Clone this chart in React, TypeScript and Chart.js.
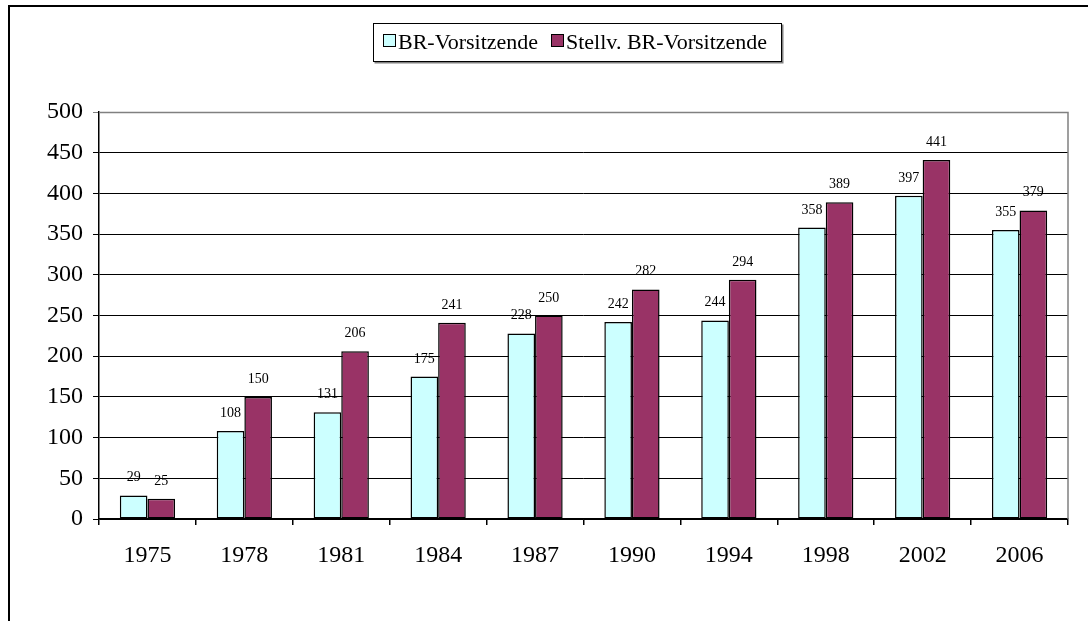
import React, { useEffect, useRef } from "react";
import { Chart, registerables } from "chart.js";

Chart.register(...registerables);

const categories = ["1975", "1978", "1981", "1984", "1987", "1990", "1994", "1998", "2002", "2006"];
const brVorsitzende = [29, 108, 131, 175, 228, 242, 244, 358, 397, 355];
const stellvVorsitzende = [25, 150, 206, 241, 250, 282, 294, 389, 441, 379];
const seriesNames = ["BR-Vorsitzende", "Stellv. BR-Vorsitzende"];
const seriesColors = ["#CCFFFF", "#993366"];

const FONT = "'Liberation Serif', 'Times New Roman', serif";

const labelPlugin = {
  id: "valueLabels",
  afterDatasetsDraw(chart: any) {
    const ctx = chart.ctx;
    ctx.save();
    ctx.font = `14px ${FONT}`;
    ctx.fillStyle = "#000";
    ctx.textAlign = "center";
    ctx.textBaseline = "alphabetic";
    chart.data.datasets.forEach((ds: any, di: number) => {
      const meta = chart.getDatasetMeta(di);
      meta.data.forEach((bar: any, i: number) => {
        ctx.fillText(String(ds.data[i]), bar.x, bar.y - 14);
      });
    });
    const a = chart.chartArea;
    ctx.strokeStyle = "#808080";
    ctx.lineWidth = 1.5;
    ctx.beginPath();
    ctx.moveTo(a.left, a.top + 0.5);
    ctx.lineTo(a.right, a.top + 0.5);
    ctx.lineTo(a.right, a.bottom);
    ctx.stroke();
    ctx.restore();
  },
};

function ChartView() {
  const ref = useRef<HTMLCanvasElement | null>(null);
  useEffect(() => {
    if (!ref.current) return;
    const chart = new Chart(ref.current, {
      type: "bar",
      data: {
        labels: categories,
        datasets: [
          {
            label: seriesNames[0],
            data: brVorsitzende,
            backgroundColor: seriesColors[0],
            borderColor: "#000",
            borderWidth: 1.5,
            borderSkipped: false,
            categoryPercentage: 0.57,
            barPercentage: 1,
          },
          {
            label: seriesNames[1],
            data: stellvVorsitzende,
            backgroundColor: seriesColors[1],
            borderColor: "#000",
            borderWidth: 1.5,
            borderSkipped: false,
            categoryPercentage: 0.57,
            barPercentage: 1,
          },
        ],
      },
      options: {
        animation: false,
        responsive: false,
        maintainAspectRatio: false,
        layout: { padding: { left: 0, top: 112, right: 20, bottom: 0 } },
        plugins: {
          legend: { display: false },
          tooltip: { enabled: false },
        },
        scales: {
          x: {
            offset: true,
            grid: {
              offset: true,
              drawOnChartArea: false,
              drawTicks: true,
              tickLength: 6,
              color: "#000",
              lineWidth: 1.5,
            },
            border: { display: true, color: "#000", width: 1.5 },
            ticks: {
              color: "#000",
              font: { family: FONT, size: 24 },
              padding: 16,
              maxRotation: 0,
            },
            afterFit(scale: any) {
              scale.height = 102;
            },
          },
          y: {
            min: 0,
            max: 500,
            grid: {
              color: (c: any) => (c.tick && c.tick.value === 500 ? "#808080" : "#000"),
              tickLength: 6,
              lineWidth: 1,
            },
            border: { display: true, color: "#000", width: 1.5 },
            ticks: {
              stepSize: 50,
              color: "#000",
              font: { family: FONT, size: 24 },
              padding: 10,
            },
            afterFit(scale: any) {
              scale.width = 99;
            },
          },
        },
      },
      plugins: [labelPlugin],
    });
    return () => chart.destroy();
  }, []);
  return <canvas ref={ref} width={1088} height={621} style={{ position: "absolute", left: 0, top: 0 }} />;
}

const legendItems = [
  { box: 9, text: 24 },
  { box: 177, text: 192 },
];

export default function App() {
  return (
    <div style={{ position: "absolute", left: 0, top: 0, width: 1088, height: 621, overflow: "hidden", background: "#fff" }}>
      <div
        style={{
          position: "absolute",
          left: 8,
          top: 5,
          width: 1200,
          height: 800,
          border: "2px solid #000",
          boxSizing: "border-box",
        }}
      />
      <ChartView />
      <div
        style={{
          position: "absolute",
          left: 373,
          top: 23,
          width: 409,
          height: 39,
          border: "1px solid #000",
          boxShadow: "1.5px 1.5px 0 #808080",
          boxSizing: "border-box",
          background: "#fff",
          fontFamily: FONT,
          fontSize: 22,
          color: "#000",
          whiteSpace: "nowrap",
        }}
      >
        {seriesNames.map((n, i) => (
          <React.Fragment key={n}>
            <span
              style={{
                position: "absolute",
                left: legendItems[i].box,
                top: 10,
                width: 13,
                height: 13,
                background: seriesColors[i],
                border: "1.5px solid #000",
                boxSizing: "border-box",
              }}
            />
            <span style={{ position: "absolute", left: legendItems[i].text, top: 5, lineHeight: "25px" }}>{n}</span>
          </React.Fragment>
        ))}
      </div>
    </div>
  );
}
